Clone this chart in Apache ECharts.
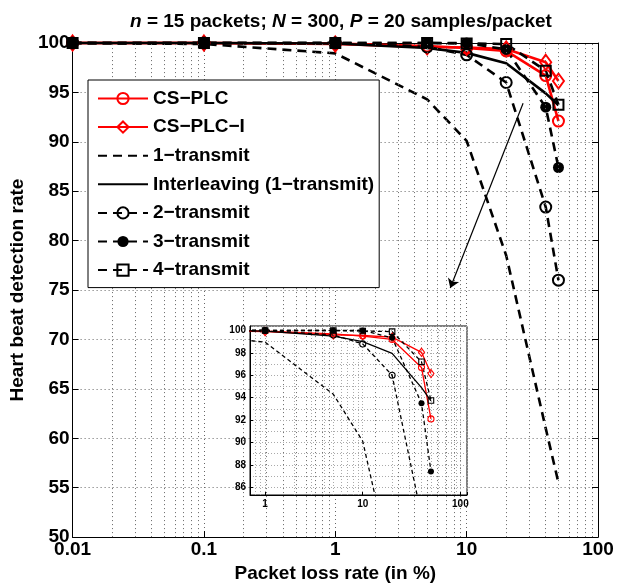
<!DOCTYPE html>
<html>
<head>
<meta charset="utf-8">
<script src="https://cdn.jsdelivr.net/npm/echarts@6/dist/echarts.min.js"></script>
<style>
html, body { margin: 0; padding: 0; background: #fff; }
#chart { width: 618px; height: 588px; }
</style>
</head>
<body>
<div id="chart"></div>
<script>
// packet loss rates (%) that were simulated
const lossRate = [0.01, 0.1, 1, 5, 10, 20, 40, 50]

// heart beat detection rate (%) for each scheme
const csPlc = [100, 100, 99.95, 99.7, 99.5, 99.2, 96.7, 92.1]
const csPlcI = [100, 100, 99.9, 99.6, 99.55, 99.4, 98.05, 96.15]
const transmit1 = [100, 99.9, 98.95, 94.3, 90.1, 78.5, 61, 55.5]
const interleaving = [100, 100, 99.95, 99.5, 99.0, 97.95, 94.9, 93.7]
const transmit2 = [100, 100, 100, 99.6, 98.8, 96.0, 83.4, 76.0]
const transmit3 = [100, 100, 100, 100, 100, 99.35, 93.5, 87.4]
const transmit4 = [100, 100, 100, 100, 99.95, 99.9, 97.2, 93.75]

const seriesNames = ['CS−PLC', 'CS−PLC−I', '1−transmit', 'Interleaving (1−transmit)', '2−transmit', '3−transmit', '4−transmit']

// tick labels
const xTicks = [0.01, 0.1, 1, 10, 100]
const yTicks = [50, 55, 60, 65, 70, 75, 80, 85, 90, 95, 100]
const insetXTicks = [1, 10, 100]
const insetYTicks = [86, 88, 90, 92, 94, 96, 98, 100]

// arrow from the curves down to the zoomed inset (loss %, rate %)
const arrowFrom = [26.9, 93.9]
const arrowTo = [7.5, 75.2]

const F = 'Liberation Sans, Arial, Helvetica, sans-serif'

function pick(list) {
  return v => {
    const hit = list.find(t => Math.abs(t - v) / t < 1e-6)
    return hit === undefined ? '' : String(hit)
  }
}

// minor grid positions of a log axis (2..9 per decade)
function minorLog(lo, hi) {
  const out = []
  for (let d = 0.01; d < 100; d *= 10) {
    for (let k = 2; k <= 9; k++) {
      const v = +(k * d).toPrecision(3)
      if (v > lo && v < hi) out.push({ xAxis: v })
    }
  }
  return out
}

const looks = [
  { data: csPlc, color: '#ff0000', dashed: false, symbol: 'circle', fill: 'none', size: 11 },
  { data: csPlcI, color: '#ff0000', dashed: false, symbol: 'diamond', fill: 'none', size: [11, 15] },
  { data: transmit1, color: '#000', dashed: true, symbol: 'none' },
  { data: interleaving, color: '#000', dashed: false, symbol: 'none' },
  { data: transmit2, color: '#000', dashed: true, symbol: 'circle', fill: 'none', size: 11 },
  { data: transmit3, color: '#000', dashed: true, symbol: 'circle', fill: '#000', size: 11 },
  { data: transmit4, color: '#000', dashed: true, symbol: 'rect', fill: 'none', size: 10 }
]

function lineSeries(i, inset) {
  const st = looks[i]
  let size = st.size || 0
  if (inset) size = Array.isArray(size) ? size.map(s => s * 0.55) : size * 0.55
  return {
    name: seriesNames[i],
    type: 'line',
    xAxisIndex: inset ? 2 : 0,
    yAxisIndex: inset ? 2 : 0,
    data: lossRate.map((x, j) => [x, st.data[j]]),
    symbol: st.symbol,
    symbolSize: size,
    showSymbol: st.symbol !== 'none',
    clip: inset,
    z: inset ? 7 : 3,
    lineStyle: {
      color: st.color,
      width: inset ? 1.3 : 2.6,
      type: st.dashed ? (inset ? [4, 3] : [9, 6]) : 'solid'
    },
    itemStyle: {
      color: st.fill || st.color,
      borderColor: st.color,
      borderWidth: st.fill === '#000' ? 0 : (inset ? 1.1 : 2)
    },
    emphasis: { disabled: true }
  }
}

const series = []
for (let i = 0; i < looks.length; i++) series.push(lineSeries(i, false))
for (let i = 0; i < looks.length; i++) series.push(lineSeries(i, true))

// dotted minor grid of the main axes + the arrow
series.push({
  type: 'line', xAxisIndex: 0, yAxisIndex: 0, data: [], z: 1,
  markLine: {
    silent: true, symbol: 'none', animation: false,
    label: { show: false },
    lineStyle: { color: '#666', width: 1, type: [1, 3] },
    data: minorLog(0.01, 100)
  }
})
series.push({
  type: 'line', xAxisIndex: 0, yAxisIndex: 0, data: [], z: 4,
  markLine: {
    silent: true, animation: false,
    symbol: ['none', 'arrow'],
    symbolSize: 9,
    label: { show: false },
    lineStyle: { color: '#000', width: 1.2, type: 'solid' },
    data: [[{ coord: arrowFrom }, { coord: arrowTo }]]
  }
})
// dotted minor grid of the inset
series.push({
  type: 'line', xAxisIndex: 2, yAxisIndex: 2, data: [], z: 6,
  markLine: {
    silent: true, symbol: 'none', animation: false,
    label: { show: false },
    lineStyle: { color: '#aaa', width: 1, type: [1, 2] },
    data: minorLog(0.7, 117).concat([87, 89, 91, 93, 95, 97, 99].map(v => ({ yAxis: v })))
  }
})

const tickFont = { fontSize: 19, fontWeight: 'bold', color: '#000', fontFamily: F }
const insetFont = { fontSize: 10, fontWeight: 'bold', color: '#000', fontFamily: F }
const blackLine = { show: true, lineStyle: { color: '#000', width: 1 } }
const mainSplit = { show: true, lineStyle: { color: '#666', width: 1, type: [1, 3] } }
const insetSplit = { show: true, lineStyle: { color: '#aaa', width: 1, type: [1, 2] } }

// lines without markers get no dot in the legend
const legendData = seriesNames.map((name, i) =>
  looks[i].symbol === 'none' ? { name, itemStyle: { opacity: 0 } } : name)

const option = {
  animation: false,
  title: {
    text: '{i|n} = 15 packets; {i|N} = 300, {i|P} = 20 samples/packet',
    left: 125,
    top: 7,
    textStyle: {
      fontSize: 19, fontWeight: 'bold', color: '#000', fontFamily: F,
      rich: { i: { fontSize: 19, fontWeight: 'bold', fontStyle: 'italic', color: '#000', fontFamily: F } }
    }
  },
  legend: {
    data: legendData,
    orient: 'vertical',
    left: 88,
    top: 80,
    padding: [8, 5, 7, 9],
    itemGap: 7.6,
    itemWidth: 50,
    itemHeight: 14,
    backgroundColor: '#fff',
    borderColor: '#000',
    borderWidth: 1,
    selectedMode: false,
    z: 8,
    textStyle: { fontSize: 19, fontWeight: 'bold', color: '#000', fontFamily: F, lineHeight: 21 }
  },
  grid: [
    { left: 72, top: 43, right: 20, bottom: 40 },
    { left: 250, top: 326, width: 217, height: 169, show: true, backgroundColor: '#fff', borderColor: '#000', borderWidth: 1, z: 5 }
  ],
  xAxis: [
    {
      type: 'log', logBase: 10, gridIndex: 0, min: 0.01, max: 100, position: 'bottom',
      name: 'Packet loss rate (in %)', nameLocation: 'middle', nameGap: 19,
      nameTextStyle: tickFont,
      axisLine: blackLine,
      axisTick: { inside: true, length: 6, lineStyle: { color: '#000' } },
      axisLabel: Object.assign({ margin: 3, formatter: pick(xTicks) }, tickFont),
      splitLine: mainSplit
    },
    {
      type: 'log', logBase: 10, gridIndex: 0, min: 0.01, max: 100, position: 'top',
      axisLine: blackLine,
      axisTick: { inside: true, length: 6, lineStyle: { color: '#000' } },
      axisLabel: { show: false },
      splitLine: { show: false }
    },
    {
      type: 'log', logBase: 10, gridIndex: 1, min: 0.7, max: 117, z: 6,
      axisLine: blackLine,
      axisTick: { inside: true, length: 3, lineStyle: { color: '#000' } },
      axisLabel: Object.assign({ margin: 4, formatter: pick(insetXTicks) }, insetFont),
      splitLine: insetSplit
    }
  ],
  yAxis: [
    {
      type: 'value', gridIndex: 0, min: 50, max: 100, interval: 5, position: 'left',
      name: 'Heart beat detection rate', nameLocation: 'middle', nameGap: 45,
      nameTextStyle: tickFont,
      axisLine: blackLine,
      axisTick: { inside: true, length: 6, lineStyle: { color: '#000' } },
      axisLabel: Object.assign({ margin: 3, formatter: pick(yTicks) }, tickFont),
      splitLine: mainSplit
    },
    {
      type: 'value', gridIndex: 0, min: 50, max: 100, interval: 5, position: 'right',
      axisLine: blackLine,
      axisTick: { inside: true, length: 6, lineStyle: { color: '#000' } },
      axisLabel: { show: false },
      splitLine: { show: false }
    },
    {
      type: 'value', gridIndex: 1, min: 85.3, max: 100.4, splitNumber: 7, z: 6,
      axisLine: blackLine,
      axisTick: { inside: true, length: 3, lineStyle: { color: '#000' } },
      axisLabel: Object.assign({ margin: 4, showMinLabel: false, showMaxLabel: false, formatter: pick(insetYTicks) }, insetFont),
      splitLine: insetSplit
    }
  ],
  series: series
}

const chart = echarts.init(document.getElementById('chart'), null, { renderer: 'canvas' })
chart.setOption(option)
</script>
</body>
</html>
